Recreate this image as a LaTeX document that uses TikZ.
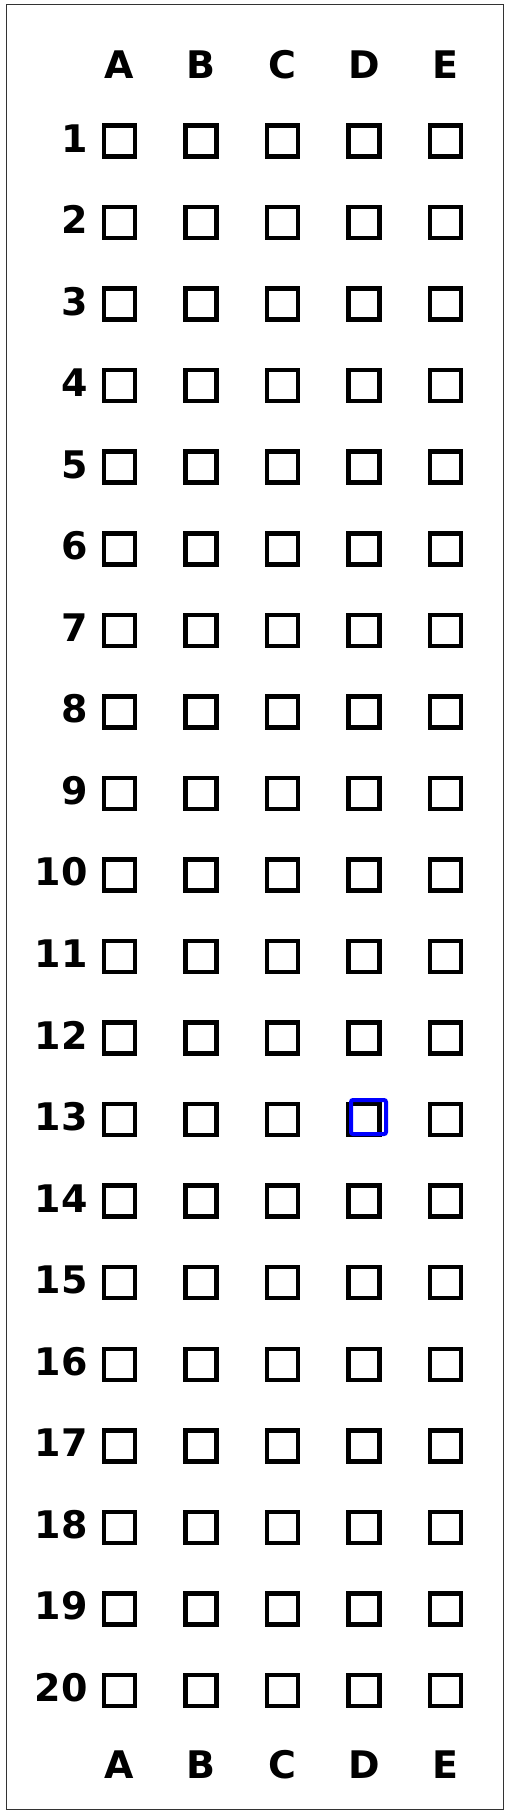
\documentclass[tikz,border=0pt]{standalone}
\usepackage{fontspec}
\setmainfont{DejaVu Sans}
\begin{document}
\begin{tikzpicture}[x=1pt,y=-1pt,
  cellbox/.style={draw=black,line width=4.5pt,minimum width=31pt,minimum height=31pt,inner sep=0pt,outer sep=0pt},
  selbox/.style={draw=blue,line width=4pt,rounded corners=2pt,minimum width=35pt,minimum height=34pt,inner sep=0pt},
  collabel/.style={font=\fontsize{38}{40}\selectfont\bfseries,inner sep=0pt,anchor=base},
  rowlabel/.style={font=\fontsize{38}{40}\selectfont\bfseries,inner sep=0pt,anchor=base east}]
\useasboundingbox (0,0) rectangle (510,1816);
\fill[white] (0,0) rectangle (510,1816);
\draw[line width=1pt,black!80] (6.5,4.5) rectangle (503.5,1809);
\foreach \L [count=\c from 0] in {A,B,C,D,E}{
  \node[collabel] (top\L) at ({119.5+81.5*\c},78) {\L};
  \node[collabel] (bot\L) at ({119.5+81.5*\c},1778) {\L};
}
\foreach \r in {1,...,20}{
  \node[rowlabel] (num\r) at (88,{141+81.55*(\r-1)+11}) {\r};
  \foreach \L [count=\c from 0] in {A,B,C,D,E}{
    \node[cellbox] (b\r\L) at ({119.5+81.5*\c},{141+81.55*(\r-1)}) {};
  }
}
\node[selbox] (sel) at (368.5,1117) {};
\end{tikzpicture}
\end{document}
